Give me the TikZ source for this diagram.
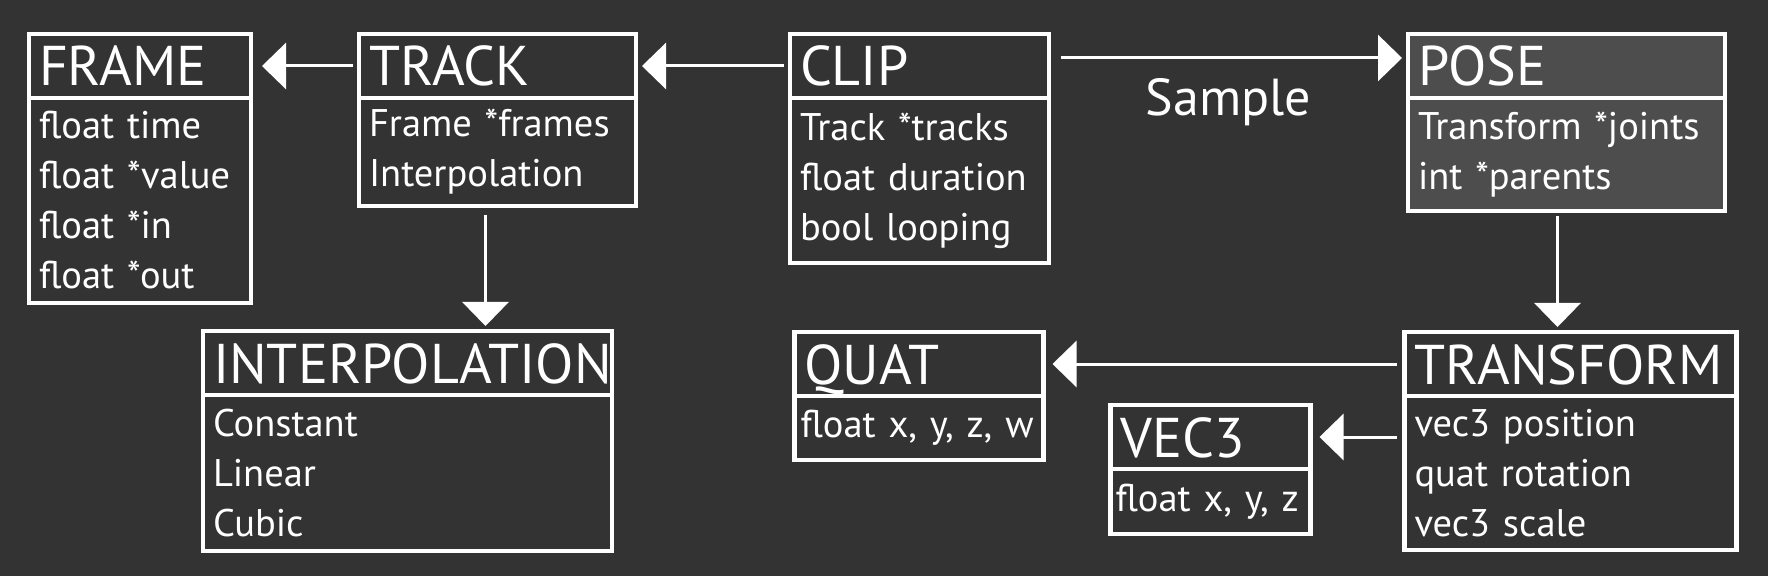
\documentclass[tikz,border=0pt]{standalone}
\usepackage{fontspec}
\setmainfont{PT Sans}[WordSpace=0.7]
\usetikzlibrary{positioning, arrows.meta}

\definecolor{canvas}{HTML}{333333}
\definecolor{posefill}{HTML}{4D4D4D}

\begin{document}
\begin{tikzpicture}[
        x=1pt, y=1pt,
        every node/.style={text=white, outer sep=0pt},
        % Title strip of a struct: width of the text is given
        classname/.style={draw=white, line width=4.5pt, fill=canvas, align=left, inner xsep=10pt, inner ysep=0pt,
            text width=#1, minimum height=64pt, text height=40pt, text depth=0pt, font=\fontsize{56}{60}\selectfont},
        % Member list under the title: text width, box height
        fields/.style 2 args={draw=white, line width=4.5pt, fill=canvas, align=left, inner xsep=10pt, inner ysep=0pt,
            text width=#1, minimum height=#2, font=\fontsize{38.5}{50}\selectfont},
        % Plain white arrows with a big flat head
        arrow/.style={-{Triangle[length=24pt, width=46pt]}, line width=3pt, draw=white, shorten <=6pt, shorten >=6pt},
        edgelabel/.style={font=\fontsize{52}{56}\selectfont, text height=36pt, text depth=0pt}
    ]

    \useasboundingbox (0,0) rectangle (1768,576);
    \fill[canvas] (0,0) rectangle (1768,576);

    % --- Top row: Frame, Track, Clip, Pose ---
    \node[classname=202pt, anchor=north west] (frame) at (29,542) {FRAME};
    \node[fields={202pt}{205pt}, below=0pt of frame] (frame_body) {float time\\float *value\\float *in\\float *out};

    \node[classname=257pt, right=108pt of frame] (track) {TRACK};
    \node[fields={257pt}{108pt}, below=0pt of track] (track_body) {Frame *frames\\Interpolation};

    \node[classname=239pt, right=154pt of track] (clip) {CLIP};
    \node[fields={239pt}{165pt}, below=0pt of clip] (clip_body) {Track *tracks\\float duration\\bool looping};

    \node[classname=297pt, right=359pt of clip, fill=posefill] (pose) {POSE};
    \node[fields={297pt}{113pt}, below=0pt of pose, fill=posefill] (pose_body) {Transform *joints\\int *parents};

    % --- Bottom row: Interpolation, Quat, Vec3, Transform ---
    \node[classname=389pt, below=125pt of track_body, xshift=-90pt] (interp) {INTERPOLATION};
    \node[fields={389pt}{156pt}, below=0pt of interp] (interp_body) {Constant\\Linear\\Cubic};

    \node[classname=312pt, below=121pt of pose_body, xshift=4pt] (transform) {TRANSFORM};
    \node[fields={312pt}{154pt}, below=0pt of transform] (transform_body) {vec3 position\\quat rotation\\vec3 scale};

    \node[classname=229pt, left=361pt of transform] (quat) {QUAT};
    \node[fields={237pt}{64pt}, inner xsep=6pt, below=0pt of quat] (quat_body) {float x, y, z, w};

    \node[classname=180pt, anchor=north east] (vec3) at ([xshift=-94pt, yshift=-9pt]transform_body.north west) {VEC3};
    \node[fields={190pt}{65pt}, inner xsep=5pt, below=0pt of vec3] (vec3_body) {float x, y, z};

    % --- Connections ---
    \draw[arrow, shorten >=11pt] (track) -- (frame);
    \draw[arrow] (clip) -- (track);
    \draw[arrow, shorten <=12pt] ([yshift=8pt]clip.east) -- ([yshift=8pt]clip.east -| pose.west)
        node[edgelabel, midway, yshift=-40pt] (sample) {Sample};

    \draw[arrow, shorten <=9pt, shorten >=5pt] ([xshift=-12pt]track_body.south) -- ([xshift=-12pt]track_body.south |- interp.north);
    \draw[arrow, shorten <=5pt, shorten >=5pt] ([xshift=-9pt]pose_body.south) -- ([xshift=-9pt]pose_body.south |- transform.north);

    \draw[arrow, shorten <=8pt, shorten >=9pt] (transform) -- (quat);
    \draw[arrow, shorten <=8pt, shorten >=9pt] (vec3 -| transform.west) -- (vec3);

\end{tikzpicture}
\end{document}
